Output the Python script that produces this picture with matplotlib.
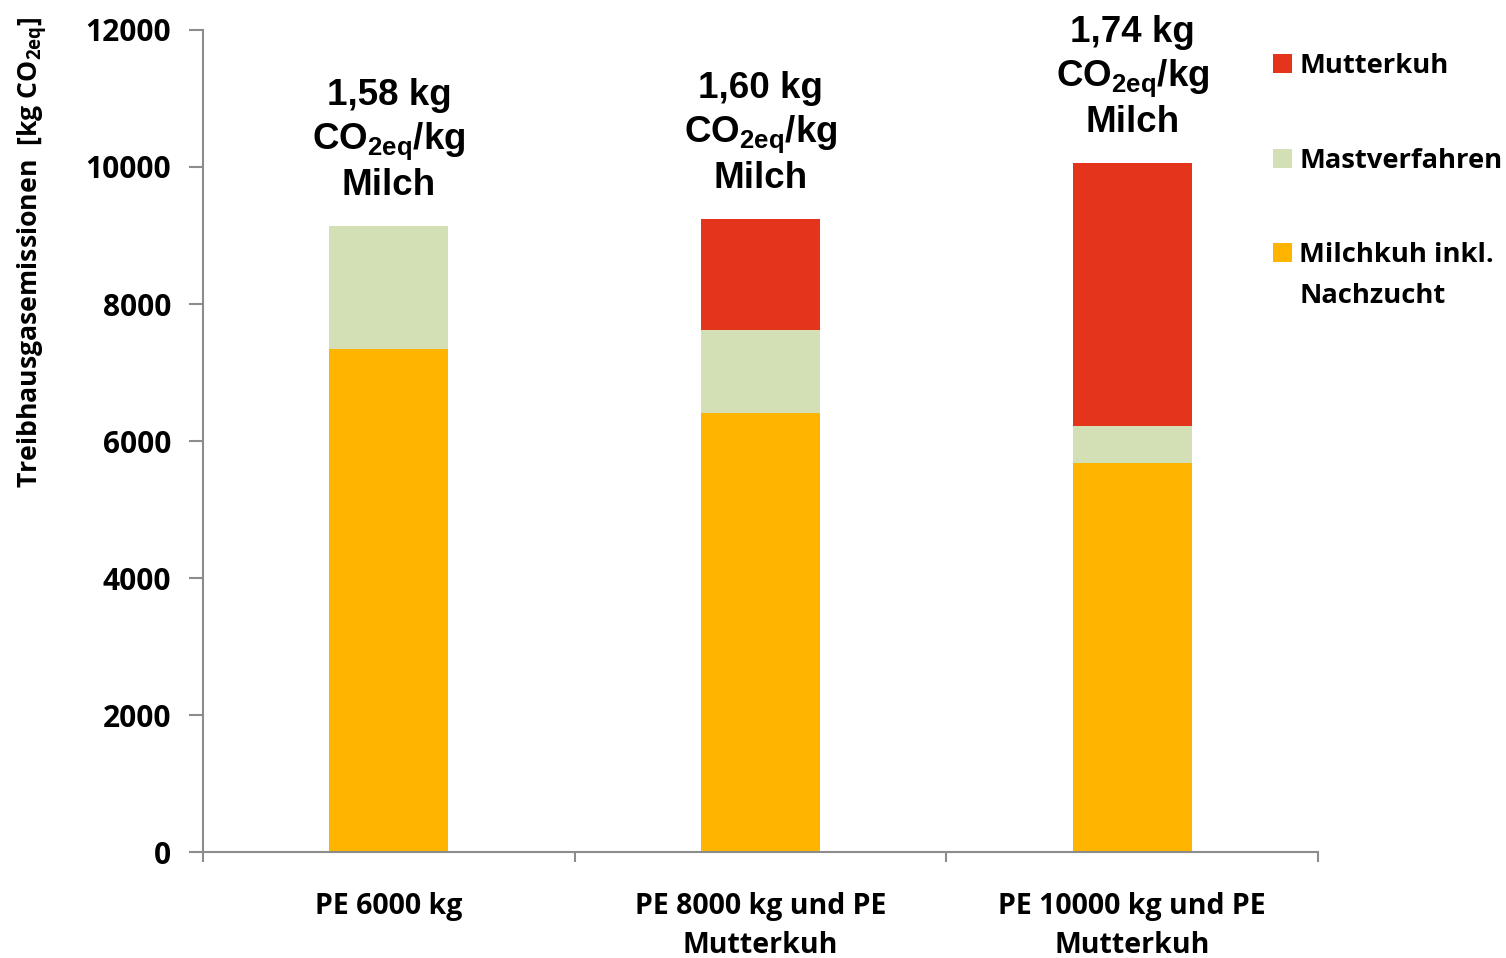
import numpy as np
import matplotlib.pyplot as plt

# Data (kg CO2eq per cow)
categories = ['PE 6000 kg', 'PE 8000 kg und PE\nMutterkuh', 'PE 10000 kg und PE\nMutterkuh']
milchkuh = [7340, 6410, 5680]
mast = [1800, 1210, 540]
mutterkuh = [0, 1620, 3840]
intensity = ['1,58', '1,60', '1,74']

c_orange = '#FFB400'
c_green = '#D3E0B6'
c_red = '#E5341C'
axis_grey = '#8C8C8C'

label_font = 'Open Sans'
annot_font = 'Liberation Sans'

fig = plt.figure(figsize=(15.06, 9.58), dpi=100)
ax = fig.add_axes([0.1348, 0.1106, 0.7404, 0.8581])

x = np.arange(len(categories))
width = 0.32
milchkuh = np.array(milchkuh)
mast = np.array(mast)
mutterkuh = np.array(mutterkuh)

b1 = ax.bar(x, milchkuh, width, color=c_orange, label='Milchkuh inkl.\nNachzucht')
b2 = ax.bar(x, mast, width, bottom=milchkuh, color=c_green, label='Mastverfahren')
b3 = ax.bar(x, mutterkuh, width, bottom=milchkuh + mast, color=c_red, label='Mutterkuh')

# Labels above bars
totals = milchkuh + mast + mutterkuh
for xi, tot, val in zip(x, totals, intensity):
    ax.text(xi, tot + 330, val + ' kg\nCO$_{\\mathregular{2eq}}$/kg\nMilch',
            ha='center', va='bottom', fontsize=26.5, fontweight='bold',
            family=annot_font, linespacing=1.25)

ax.set_xlim(-0.5, 2.5)
ax.set_ylim(0, 12000)
ax.set_yticks(np.arange(0, 12001, 2000))
ax.set_yticklabels([str(v) for v in range(0, 12001, 2000)],
                   fontsize=21.5, fontweight='bold', family=label_font)

# category boundaries as major ticks, names as minor ticks
ax.set_xticks([-0.5, 0.5, 1.5, 2.5])
ax.set_xticklabels([])
ax.set_xticks(x, minor=True)
ax.set_xticklabels(categories, minor=True, fontsize=20.5, fontweight='bold',
                   family=label_font, linespacing=1.42)
ax.tick_params(axis='x', which='minor', length=0, pad=29)
ax.tick_params(axis='x', which='major', length=7, color=axis_grey, width=1.5)
ax.tick_params(axis='y', length=10, color=axis_grey, width=1.5, pad=13)

for s in ['top', 'right']:
    ax.spines[s].set_visible(False)
for s in ['left', 'bottom']:
    ax.spines[s].set_color(axis_grey)
    ax.spines[s].set_linewidth(1.5)

ax.set_ylabel('Treibhausgasemissionen  [kg CO$_{\\mathregular{2eq}}$]',
              fontsize=19.2, fontweight='bold', family=label_font)
ax.yaxis.set_label_coords(-0.137, 0.73)

handles = [b3, b2, b1]
leg = fig.legend(handles, [h.get_label() for h in handles],
                 loc='upper left', bbox_to_anchor=(0.829, 0.97),
                 frameon=False, handlelength=0.7, handleheight=0.7,
                 handletextpad=0.25, labelspacing=2.5,
                 prop={'family': label_font, 'weight': 'bold', 'size': 19.7})
leg.get_texts()[2].set_linespacing(1.75)

# lift the last legend marker up to the first line of its two-line label
fig.canvas.draw()
mk = leg.legend_handles[2]
mk.set_y(mk.get_y() + 17)

fig.savefig('out.png', dpi=100)
